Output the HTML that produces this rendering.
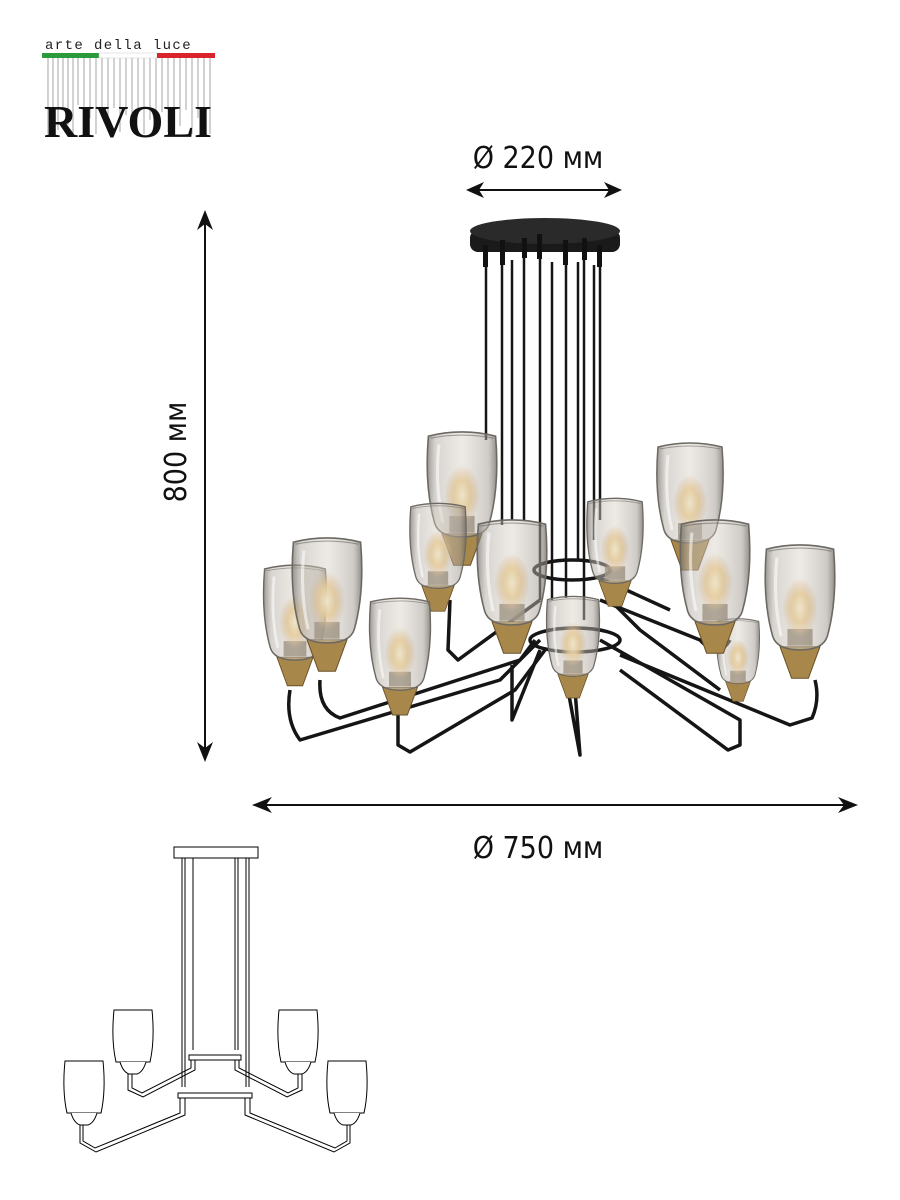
<!DOCTYPE html>
<html><head><meta charset="utf-8"><style>
html,body{margin:0;padding:0;background:#fff;}
svg{display:block;}
.sans{font-family:"DejaVu Sans Condensed","Liberation Sans",sans-serif;}
</style></head><body>
<svg width="900" height="1200" viewBox="0 0 900 1200" xmlns="http://www.w3.org/2000/svg">
<defs>
<linearGradient id="gl" x1="0" x2="1" y1="0" y2="0">
<stop offset="0" stop-color="#6e6a66" stop-opacity="0.7"/>
<stop offset="0.12" stop-color="#b8b2aa" stop-opacity="0.55"/>
<stop offset="0.5" stop-color="#d8d0c4" stop-opacity="0.45"/>
<stop offset="0.88" stop-color="#a8a098" stop-opacity="0.55"/>
<stop offset="1" stop-color="#6a6662" stop-opacity="0.75"/>
</linearGradient>
<radialGradient id="bulb" cx="0.5" cy="0.5" r="0.5">
<stop offset="0" stop-color="#fff6d0"/><stop offset="0.5" stop-color="#f2c878" stop-opacity="0.85"/><stop offset="1" stop-color="#e0b070" stop-opacity="0"/>
</radialGradient>
<g id="sh">
<path d="M-19,95 L-8,125 L8,125 L19,95 Z" fill="#a8874a" stroke="#6a5028" stroke-width="1"/>
<rect x="-12" y="78" width="24" height="16" fill="#7a6e5a" opacity="0.85"/>
<ellipse cx="0" cy="58" rx="17" ry="28" fill="url(#bulb)"/>
<path d="M-32,2 Q-36,50 -26,85 Q-22,98 0,98 Q22,98 26,85 Q36,50 32,2 Q0,-6 -32,2 Z" fill="url(#gl)" stroke="#6c6862" stroke-width="1.5"/>
<path d="M-22,10 Q-26,50 -18,85" stroke="#fff" stroke-opacity="0.55" stroke-width="3" fill="none"/>
<path d="M-30,4 Q0,-2 30,4" stroke="#555" stroke-opacity="0.5" stroke-width="1" fill="none"/>
</g>
<g id="ls">
<path d="M-19,0 L19,0 Q22,30 17,52 L-17,52 Q-22,30 -19,0 Z" fill="#fff" stroke="#000" stroke-width="1"/>
<path d="M-13,52 Q-10,62 -4,64 L4,64 Q10,62 13,52" fill="#fff" stroke="#000" stroke-width="1"/>
</g>
</defs>

<!-- logo -->
<g stroke="#b5b5b5" stroke-width="1.2">
<path d="M48,58V135M53,58V120M58,58V130M63,58V110M68,58V125M73,58V135M78,58V105M84,58V128M90,58V118M96,58V134M102,58V112M108,58V126M114,58V108M120,58V132M126,58V115M132,58V128M138,58V110M144,58V134M150,58V120M156,58V128M162,58V112M168,58V132M174,58V116M180,58V126M186,58V110M192,58V134M198,58V118M204,58V128M210,58V134"/>
</g>
<text x="45" y="49" style="font-family:'Liberation Mono',monospace;font-size:14px;letter-spacing:1.4px" fill="#222">arte della luce</text>
<rect x="42" y="53" width="57" height="5" fill="#2a9a3a"/>
<rect x="99" y="53" width="58" height="5" fill="#fff" stroke="#ccc" stroke-width="0.5"/>
<rect x="157" y="53" width="58" height="5" fill="#d8242a"/>
<text x="44" y="137" style="font-family:'Liberation Serif',serif;font-size:46px;font-weight:bold" fill="#111" textLength="168" lengthAdjust="spacingAndGlyphs">RIVOLI</text>

<!-- dimensions -->
<text class="sans" x="538" y="168" font-size="30" text-anchor="middle" fill="#111">Ø 220 мм</text>
<line x1="472" y1="190" x2="616" y2="190" stroke="#111" stroke-width="2"/>
<path d="M466,190 l18,-8 l-5,8 l5,8z M622,190 l-18,-8 l5,8 l-5,8z" fill="#111"/>
<line x1="205" y1="218" x2="205" y2="754" stroke="#111" stroke-width="2"/>
<path d="M205,210 l-8,20 l8,-6 l8,6z M205,762 l-8,-20 l8,6 l8,-6z" fill="#111"/>
<text class="sans" transform="translate(186,452) rotate(-90)" font-size="30" text-anchor="middle" fill="#111">800 мм</text>
<line x1="258" y1="805" x2="852" y2="805" stroke="#111" stroke-width="2"/>
<path d="M252,805 l20,-8 l-6,8 l6,8z M858,805 l-20,-8 l6,8 l-6,8z" fill="#111"/>
<text class="sans" x="538" y="858" font-size="30" text-anchor="middle" fill="#111">Ø 750 мм</text>

<!-- chandelier -->
<rect x="470" y="230" width="150" height="22" rx="8" fill="#1a1a1a"/>
<ellipse cx="545" cy="231" rx="75" ry="13" fill="#2a2a2a"/>
<g fill="#111"><rect x="483" y="245" width="5" height="22"/><rect x="500" y="240" width="5" height="25"/><rect x="522" y="238" width="5" height="20"/><rect x="537" y="234" width="5" height="25"/><rect x="563" y="240" width="5" height="25"/><rect x="582" y="238" width="5" height="22"/><rect x="597" y="245" width="5" height="22"/></g>
<g stroke="#151515" stroke-width="2.5" fill="none">
<path d="M486,265 V440 M502,265 V525 M512,260 V520 M524,258 V520 M540,258 V600 M552,262 V600 M566,262 V598 M578,262 V560 M584,260 V620 M594,265 V540 M600,265 V520"/>
</g>
<!-- arms -->
<g stroke="#151515" stroke-width="3.5" fill="none" stroke-linejoin="round">
<ellipse cx="572" cy="570" rx="38" ry="10"/>
<ellipse cx="575" cy="640" rx="45" ry="12"/>
<path d="M290,690 Q285,720 300,740 L500,680 L540,640"/>
<path d="M320,680 Q318,710 340,718 L520,660 L535,640"/>
<path d="M398,700 L398,745 L410,752 L515,690 L545,650"/>
<path d="M450,600 L448,650 L458,660 L540,600"/>
<path d="M512,665 L512,720 L540,650"/>
<path d="M575,690 L580,755 L568,690"/>
<path d="M610,600 L640,630 L720,690"/>
<path d="M600,640 L740,720 L740,745 L728,750 L620,670"/>
<path d="M620,655 L790,725 L812,718 Q820,700 815,680"/>
<path d="M600,600 L700,640 Q718,660 730,640"/>
<path d="M600,578 L670,610"/>
</g>
<!-- shades back to front -->
<use href="#sh" transform="translate(462,434) scale(1.05)"/>
<use href="#sh" transform="translate(690,445) scale(1.0)"/>
<use href="#sh" transform="translate(438,505) scale(0.85)"/>
<use href="#sh" transform="translate(615,500) scale(0.85)"/>
<use href="#sh" transform="translate(738,620) scale(0.65)"/>
<use href="#sh" transform="translate(573,598) scale(0.8)"/>
<use href="#sh" transform="translate(295,567) scale(0.95)"/>
<use href="#sh" transform="translate(327,540) scale(1.05)"/>
<use href="#sh" transform="translate(400,600) scale(0.92)"/>
<use href="#sh" transform="translate(512,522) scale(1.05)"/>
<use href="#sh" transform="translate(715,522) scale(1.05)"/>
<use href="#sh" transform="translate(800,547) scale(1.05)"/>

<!-- line drawing -->
<g stroke="#000" stroke-width="1" fill="none">
<rect x="174" y="847" width="84" height="11" fill="#fff"/>
<path d="M182,858 V1087 M185,858 V1087 M193,858 V1050 M246,858 V1087 M249,858 V1087 M235,858 V1050 M238,858 V1050"/>
<rect x="189" y="1055" width="52" height="5" fill="#fff"/>
<rect x="178" y="1093" width="74" height="5" fill="#fff"/>
<path d="M191,1060 V1068 L142,1093 L132,1088 V1073 M195,1060 V1070 L143,1097 L128,1090 V1073"/>
<path d="M239,1060 V1068 L288,1093 L298,1088 V1073 M235,1060 V1070 L287,1097 L302,1090 V1073"/>
<path d="M180,1098 V1113 L95,1148 L83,1141 V1125 M185,1098 V1115 L96,1152 L80,1143 V1125"/>
<path d="M250,1098 V1113 L335,1148 L347,1141 V1125 M245,1098 V1115 L334,1152 L350,1143 V1125"/>
</g>
<use href="#ls" transform="translate(133,1010)"/>
<use href="#ls" transform="translate(298,1010)"/>
<use href="#ls" transform="translate(84,1061)"/>
<use href="#ls" transform="translate(347,1061)"/>
</svg>
</body></html>
